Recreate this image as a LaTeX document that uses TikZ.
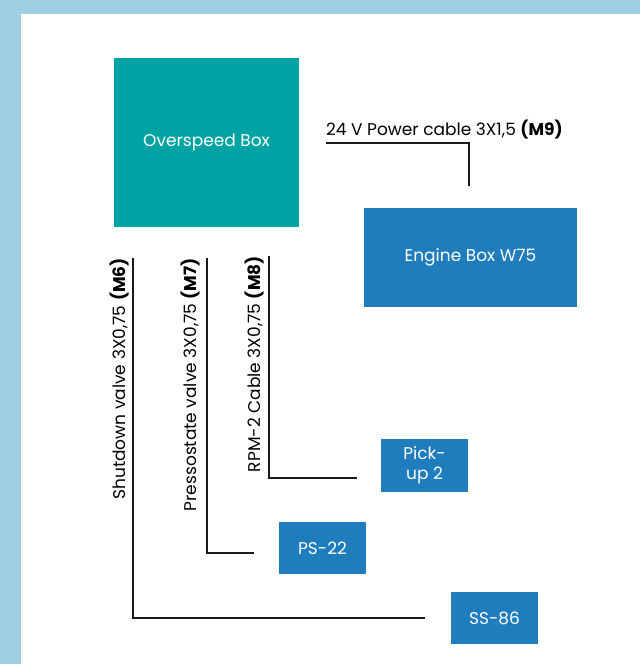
\documentclass[tikz,border=0pt]{standalone}
\usepackage{fontspec}
\setmainfont{Poppins}
\definecolor{frame}{HTML}{9ECFE3}
\definecolor{teal}{HTML}{00A3A3}
\definecolor{boxblue}{HTML}{1F7DBD}
\begin{document}
\begin{tikzpicture}[x=1pt,y=-1pt,
  box/.style={fill=#1,draw=none,text=white,align=center,font=\fontsize{17}{20}\selectfont,inner sep=0pt},
  wire/.style={line width=1.3pt,black!90},
  lbl/.style={font=\fontsize{17}{20}\selectfont,inner sep=0pt}]
\useasboundingbox (0,0) rectangle (640,664);
\fill[frame] (0,0) rectangle (640,664);
\fill[white] (21,14) rectangle (640,664);
\node[box=teal,minimum width=185pt,minimum height=169pt] (osb) at (206.5,142.5) {Overspeed Box};
\node[box=boxblue,minimum width=213pt,minimum height=99pt] (eng) at (470.5,257.5) {Engine Box W75};
\node[box=boxblue,minimum width=87pt,minimum height=53pt] (pu) at (424.5,465.5) {Pick-\\up 2};
\node[box=boxblue,minimum width=87pt,minimum height=52pt] (ps) at (322.5,548) {PS-22};
\node[box=boxblue,minimum width=87pt,minimum height=52pt] (ss) at (494.5,618) {SS-86};
\coordinate (p1) at (326,143);
\coordinate (p2) at (469,186);
\draw[wire] (p1) -| (p2);
\node[lbl,anchor=base west] (t9) at (326,135) {24 V Power cable 3X1,5 \textbf{(M9)}};
\coordinate (s1) at (133,258);
\coordinate (s2) at (425,618);
\draw[wire] (s1) |- (s2);
\coordinate (q1) at (207,258);
\coordinate (q2) at (254,553);
\draw[wire] (q1) |- (q2);
\coordinate (r1) at (269,256);
\coordinate (r2) at (357,478);
\draw[wire] (r1) |- (r2);
\node[lbl,rotate=90,anchor=base east] (t6) at (125,258) {Shutdown valve 3X0,75 \textbf{(M6)}};
\node[lbl,rotate=90,anchor=base east] (t7) at (196,258) {Pressostate valve 3X0,75 \textbf{(M7)}};
\node[lbl,rotate=90,anchor=base east] (t8) at (260,256) {RPM-2 Cable 3X0,75 \textbf{(M8)}};
\end{tikzpicture}
\end{document}
